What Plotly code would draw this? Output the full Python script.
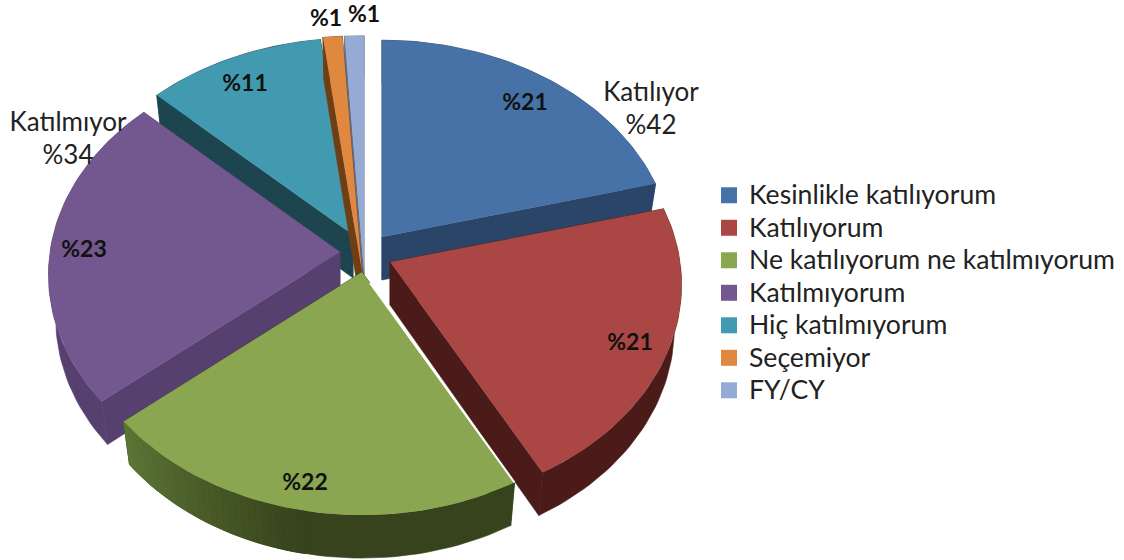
import math
import plotly.graph_objects as go

labels = ["Kesinlikle katılıyorum", "Katılıyorum", "Ne katılıyorum ne katılmıyorum",
          "Katılmıyorum", "Hiç katılmıyorum", "Seçemiyor", "FY/CY"]
values = [21, 21, 22, 23, 11, 1, 1]
texts = ["%21", "%21", "%22", "%23", "%11", "%1", "%1"]
group_labels = ["Katılıyor<br>%42", "Katılmıyor<br>%34"]

top_colors = ["#4672A8", "#AA4644", "#8BA650", "#73578F", "#429AB0", "#E0883F", "#95ABD3"]
wall_colors = ["#2A4568", "#4A1B18", "#37431C", "#55406F", "#1C4550", "#6E3F14", "#5F6F8C"]
# pixel layout of the exploded, tilted pie
vertex = [(382, 237), (390, 262), (362, 272), (340, 252), (353, 235), (362, 272), (364, 272)]
scale = [1, 1, 1, 1, 1, 1.2, 1.2]
value_pos = [(525, 104), (630, 344), (305, 484), (84, 251), (245, 85), (326, 20), (364, 16)]
RX, RY, PERSP, DEPTH, SHRINK = 290, 220, 0.105, 43, 0.975
W, H = 1124, 560
FONT = "Lato"

total = sum(values)
bounds = [0]
for v in values:
    bounds.append(bounds[-1] + v / total * 360)


def rim(i, deg):
    t = math.radians(deg)
    s = (1 - PERSP * math.cos(t)) * scale[i]
    return vertex[i][0] + RX * math.sin(t) * s, vertex[i][1] - RY * math.cos(t) * s


def arc(i, a, b):
    n = max(2, int(abs(b - a) / 1.5))
    return [rim(i, a + (b - a) * k / n) for k in range(n + 1)]


def strip(i, path):
    cx = vertex[i][0]
    down = [(cx + (x - cx) * SHRINK, y + DEPTH) for x, y in reversed(path)]
    ring = list(path) + down + [path[0]]
    return [p[0] for p in ring], [p[1] for p in ring]


def poly(fig, xs, ys, color, lw=0.0):
    fig.add_trace(go.Scatter(x=xs, y=ys, mode="lines", fill="toself", fillcolor=color,
                             line=dict(color=color, width=lw), hoverinfo="skip", showlegend=False))


def mix(c0, c1, f):
    a = [int(c0[k:k + 2], 16) for k in (1, 3, 5)]
    b = [int(c1[k:k + 2], 16) for k in (1, 3, 5)]
    return "#%02X%02X%02X" % tuple(round(p + (q - p) * f) for p, q in zip(a, b))


fig = go.Figure()
for i in [4, 6, 5, 0, 3, 1, 2]:
    a, b = bounds[i], bounds[i + 1]
    rim_path = arc(i, a, b)
    outline = [vertex[i]] + rim_path + [vertex[i]]
    for edge in ([vertex[i], rim_path[0]], [vertex[i], rim_path[-1]], rim_path):
        xs, ys = strip(i, edge)
        poly(fig, xs, ys, wall_colors[i], 0.6)
    if i == 2:  # lit end of the green wall
        steps = 30
        for k in range(steps):
            a0, a1 = b - k * 40 / steps, b - (k + 1) * 40 / steps
            xs, ys = strip(i, [rim(i, a0), rim(i, a1)])
            poly(fig, xs, ys, mix("#5C7535", wall_colors[i], k / (steps - 1)), 0.8)
    poly(fig, [p[0] for p in outline], [p[1] for p in outline], top_colors[i])
    if i == 2:
        e = rim(i, a)
        fig.add_trace(go.Scatter(x=[vertex[i][0] + 8, e[0]], y=[vertex[i][1] + 11, e[1]], mode="lines",
                                 line=dict(color="white", width=2), hoverinfo="skip", showlegend=False))

fig.add_trace(go.Scatter(x=[p[0] for p in value_pos], y=[p[1] for p in value_pos], mode="text",
                         text=texts, textposition="middle center", hoverinfo="skip", showlegend=False,
                         cliponaxis=False,
                         textfont=dict(family=FONT, size=23, color="#111111", weight="bold")))
fig.add_trace(go.Scatter(x=[651, 68], y=[111, 141], mode="text", text=group_labels,
                         textposition="middle center", hoverinfo="skip", showlegend=False,
                         textfont=dict(family=FONT, size=26, color="#222222")))
for name, color in zip(labels, top_colors):
    fig.add_trace(go.Scatter(x=[None], y=[None], mode="markers",
                             name=f'<span style="font-size:26.6px">{name}</span>',
                             marker=dict(symbol="square", size=16, color=color)))

fig.update_xaxes(range=[0, W], visible=False, fixedrange=True)
fig.update_yaxes(range=[H, 0], visible=False, fixedrange=True)
fig.update_layout(width=W, height=H, margin=dict(l=0, r=0, t=0, b=0),
                  paper_bgcolor="white", plot_bgcolor="white",
                  legend=dict(x=709 / W, y=1 - 293 / H, xanchor="left", yanchor="middle",
                              font=dict(family=FONT, size=22.7, color="#222222"),
                              itemwidth=30, bgcolor="rgba(0,0,0,0)"))
fig.write_html("out.html", config=dict(displayModeBar=False),
               post_script="document.body.style.margin='0';document.body.style.overflow='hidden';")
